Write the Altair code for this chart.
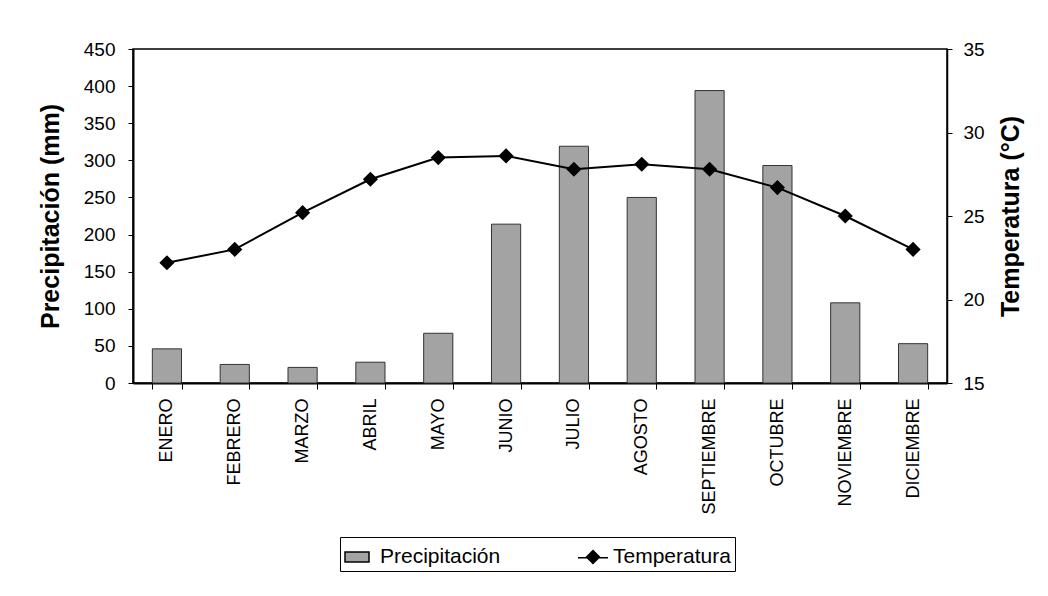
import altair as alt
import pandas as pd

# Monthly climate normals
meses = ["ENERO", "FEBRERO", "MARZO", "ABRIL", "MAYO", "JUNIO", "JULIO",
         "AGOSTO", "SEPTIEMBRE", "OCTUBRE", "NOVIEMBRE", "DICIEMBRE"]
precipitacion = [46, 25, 21, 28, 67, 214, 319, 250, 394, 293, 108, 53]
temperatura = [22.2, 23.0, 25.2, 27.2, 28.5, 28.6, 27.8, 28.1, 27.8, 26.7, 25.0, 23.0]

# Legend entries: bar swatch, line-with-diamond swatch, and the plain marker
series = ["Precipitación", "Temperatura", "marcador"]
simbolos = ["M-1,-0.33H0.6V0.33H-1Z",
            "M-1,0.05H1M0,-0.43L0.43,0L0,0.43L-0.43,0Z",
            "diamond"]
colores = ["#a3a3a3", "black", "black"]

df = pd.DataFrame({"mes": meses, "precipitacion": precipitacion,
                   "temperatura": temperatura})
df["serie"] = "marcador"

FONT = "Liberation Sans"

x = alt.X(
    "mes:N", sort=meses,
    scale=alt.Scale(paddingInner=0.57, paddingOuter=0.285),
    axis=alt.Axis(title=None, labelAngle=-90, labelFontSize=18, tickBand="extent",
                  tickSize=6, labelPadding=9, domainWidth=2, domainColor="black",
                  tickColor="black", labelColor="black"),
)

y_prec = alt.Y(
    "precipitacion:Q",
    scale=alt.Scale(domain=[0, 450], nice=False),
    axis=alt.Axis(values=list(range(0, 451, 50)), title="Precipitación (mm)",
                  titleFontSize=25, titleFontWeight="bold", titlePadding=20,
                  labelFontSize=19, tickSize=5, labelPadding=13, domainWidth=2,
                  domainColor="black", tickColor="black", labelColor="black",
                  titleColor="black", grid=False),
)

y_temp = alt.Y(
    "temperatura:Q",
    scale=alt.Scale(domain=[15, 35], nice=False),
    axis=alt.Axis(orient="right", values=[15, 20, 25, 30, 35], title="Temperatura (°C)",
                  titleAngle=-90, titleBaseline="top", titleFontSize=25,
                  titleFontWeight="bold", titlePadding=14, labelFontSize=19, tickSize=5,
                  labelPadding=11, domainWidth=1.5, domainColor="black",
                  tickColor="black", labelColor="black", titleColor="black", grid=False),
)

leyenda = alt.Legend(
    title=None, orient="none", legendX=207, legendY=488, direction="horizontal",
    values=["Precipitación", "Temperatura"], symbolSize=900, symbolStrokeWidth=1.5,
    symbolOpacity=1, labelFontSize=21, labelFont=FONT, labelColor="black",
    strokeColor="black", padding=4, columnPadding=74, labelOffset=4,
)

base = alt.Chart(df)

barras = base.mark_bar(color="#a3a3a3", stroke="#333333", strokeWidth=1).encode(
    x=x, y=y_prec
)

linea = base.mark_line(color="black", strokeWidth=2).encode(x=x, y=y_temp)

puntos = base.mark_point(filled=True, size=170, opacity=1, stroke="black",
                         strokeWidth=1.5).encode(
    x=x, y=y_temp,
    color=alt.Color("serie:N", scale=alt.Scale(domain=series, range=colores), legend=leyenda),
    shape=alt.Shape("serie:N", scale=alt.Scale(domain=series, range=simbolos), legend=leyenda),
)

chart = (
    alt.layer(barras, alt.layer(linea, puntos))
    .resolve_scale(y="independent")
    .properties(
        width=814, height=334,
        autosize=alt.AutoSizeParams(type="none"),
        padding={"left": 133, "top": 49, "right": 101, "bottom": 213},
        background="white",
    )
    .configure_view(stroke="black", strokeWidth=1.5)
    .configure_axis(labelFont=FONT, titleFont=FONT)
    .configure_legend(labelFont=FONT)
)

chart.save("out.html", embed_options={"renderer": "svg", "actions": False})
